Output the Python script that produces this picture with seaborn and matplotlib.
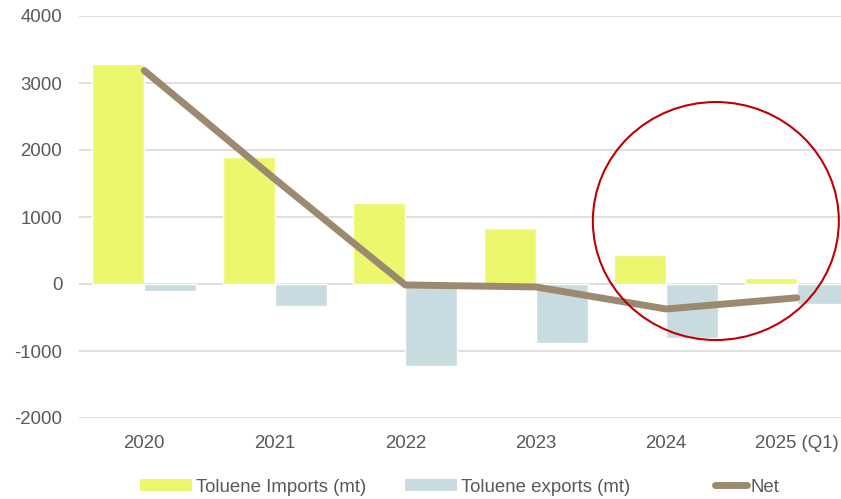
import numpy as np
import pandas as pd
import matplotlib
matplotlib.use("Agg")
import matplotlib.pyplot as plt
import seaborn as sns
from matplotlib.patches import Patch, Ellipse
from matplotlib.lines import Line2D

# Values (mt)
years = ["2020", "2021", "2022", "2023", "2024", "2025 (Q1)"]
imports = [3290, 1895, 1210, 836, 433, 92]
exports = [-104, -328, -1224, -880, -806, -298]
net = [3186, 1567, -14, -44, -373, -206]

series_names = ["Toluene Imports (mt)", "Toluene exports (mt)", "Net"]
colors = {"imports": "#EDF76E", "exports": "#C7DBE0", "net": "#9C8A70"}

df = pd.DataFrame({
    "year": years * 2,
    "value": imports + exports,
    "series": [series_names[0]] * len(years) + [series_names[1]] * len(years),
})

sns.set_style("white")
plt.rcParams["font.family"] = ["Liberation Sans", "DejaVu Sans"]
plt.rcParams["axes.unicode_minus"] = False

fig = plt.figure(figsize=(8.41, 4.99), dpi=100)
# axes run past the right edge, like the cropped reference
ax = fig.add_axes([79 / 841, 1 - 418 / 499, 783 / 841, 402 / 499])

sns.barplot(
    data=df, x="year", y="value", hue="series",
    palette=[colors["imports"], colors["exports"]],
    width=0.8, saturation=1, legend=False, ax=ax, zorder=2,
)
sns.lineplot(
    x=np.arange(len(years)), y=net, sort=False, color=colors["net"],
    linewidth=5, solid_capstyle="round", solid_joinstyle="round",
    ax=ax, zorder=3,
)

ax.add_patch(Ellipse((4.38, 940), 1.885, 3552, facecolor="none",
                     edgecolor="#C00000", linewidth=1.5, zorder=4))

ax.set_ylim(-2000, 4000)
ax.set_xlim(-0.5, len(years) - 0.5)
ax.set_yticks(range(-2000, 4001, 1000))
ax.yaxis.grid(True, color="#D9D9D9", linewidth=1.2)
ax.set_axisbelow(True)
for s in ax.spines.values():
    s.set_visible(False)
ax.set_xlabel("")
ax.set_ylabel("")
ax.tick_params(axis="both", length=0, labelsize=13.4, labelcolor="#595959")
ax.tick_params(axis="x", pad=12)
ax.tick_params(axis="y", pad=12)

# legend entries are spread like the Excel legend, so place them one by one
handles = [
    Patch(facecolor=colors["imports"], edgecolor="none"),
    Patch(facecolor=colors["exports"], edgecolor="none"),
    Line2D([0], [0], color=colors["net"], linewidth=5, solid_capstyle="round"),
]
legend_x = [140, 405, 715]
handle_len = [2.8, 2.8, 1.7]
for h, name, lx, hl in zip(handles, series_names, legend_x, handle_len):
    leg = fig.legend([h], [name], loc="center left", frameon=False,
                     bbox_to_anchor=(lx / 841, 1 - 487 / 499), fontsize=13.4,
                     handlelength=hl, handleheight=0.55, handletextpad=0.2,
                     borderpad=0, borderaxespad=0)
    for t in leg.get_texts():
        t.set_color("#595959")

fig.savefig("out.png", dpi=100)
